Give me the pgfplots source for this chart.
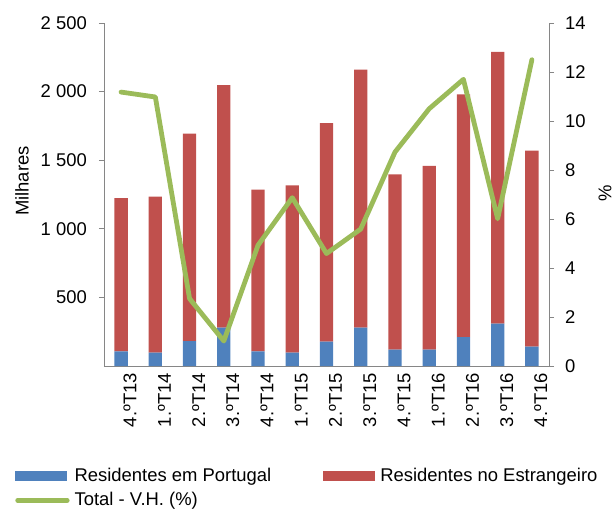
\documentclass[border=0pt]{standalone}
\usepackage{pgfplots}
\pgfplotsset{compat=1.18}
\usepackage{fontspec}
\setmainfont{Liberation Sans}
\definecolor{cblue}{HTML}{4F81BD}
\definecolor{cred}{HTML}{C0504D}
\definecolor{cgreen}{HTML}{9BBB59}
\definecolor{cgray}{HTML}{868686}
\begin{document}%
\fontsize{18.5}{21.5}\selectfont%
\begin{tikzpicture}
\begin{axis}[
  scale only axis, width=445bp, height=343bp,
  at={(0,0)}, anchor=south west,
  xmin=-0.5, xmax=12.5, ymin=0, ymax=2500,
  axis x line*=bottom, axis y line*=left,
  axis line style={cgray, line width=0.9bp, -},
  every tick/.style={cgray, line width=0.9bp},
  tick align=outside,
  major tick length=5bp, minor tick length=5bp,
  xtick={0,...,12},
  xticklabels={4.ºT13,1.ºT14,2.ºT14,3.ºT14,4.ºT14,1.ºT15,2.ºT15,3.ºT15,4.ºT15,1.ºT16,2.ºT16,3.ºT16,4.ºT16},
  x tick style={draw=none},
  minor xtick={-0.5,0.5,...,12.5},
  minor x tick style={cgray, line width=0.9bp},
  xticklabel style={rotate=90, anchor=east, inner sep=2bp, yshift=-9bp},
  ytick={500,1000,1500,2000,2500},
  yticklabels={500,1 000,1 500,2 000,2 500},
  yticklabel style={inner sep=3bp, xshift=-9bp},
  every axis y label/.style={at={(axis description cs:-0.184,0.539)}, rotate=90, anchor=center},
  ylabel={Milhares},
  ybar stacked, bar width=13.3bp,
  legend columns=2,
  legend cell align=left,
  legend style={at={(axis description cs:0,0)}, anchor=north west, xshift=-89bp, yshift=-100bp,
    draw=none, fill=none, inner sep=0pt, row sep=4bp,
    nodes={inner sep=2bp},
    /tikz/every odd column/.append style={column sep=3bp},
    /tikz/every even column/.append style={column sep=50bp}},
]
\addplot[fill=cblue, draw=none,
  legend image code/.code={\fill[cblue] (0bp,-5bp) rectangle (52bp,5bp);}]
  coordinates {(0,107) (1,97) (2,182) (3,279) (4,107) (5,97) (6,177) (7,279) (8,119) (9,119) (10,211) (11,309) (12,141)};
\addlegendentry{Residentes em Portugal}
\addplot[fill=cred, draw=none,
  legend image code/.code={\fill[cred] (0bp,-5bp) rectangle (52bp,5bp);}]
  coordinates {(0,1117) (1,1137) (2,1511) (3,1769) (4,1178) (5,1220) (6,1594) (7,1881) (8,1278) (9,1339) (10,1769) (11,1980) (12,1429)};
\addlegendentry{Residentes no Estrangeiro}
\addlegendimage{legend image code/.code={\draw[cgreen, line width=4.8bp, line cap=round] (2.5bp,0bp) -- (52bp,0bp);}}
\addlegendentry{Total - V.H. (\%)}
\end{axis}
\begin{axis}[
  scale only axis, width=445bp, height=343bp,
  at={(0,0)}, anchor=south west,
  xmin=-0.5, xmax=12.5, ymin=0, ymax=14,
  axis x line=none, axis y line*=right,
  axis line style={cgray, line width=0.9bp, -},
  every tick/.style={cgray, line width=0.9bp},
  tick align=outside, major tick length=5bp,
  ytick={0,2,...,14},
  /pgf/number format/assume math mode=true,
  yticklabel style={inner sep=3bp, xshift=8bp},
  every axis y label/.style={at={(axis description cs:1.126,0.504)}, rotate=90, anchor=center},
  ylabel={\%},
]
\addplot[cgreen, line width=4.8bp, line join=round, line cap=round]
  coordinates {(0,11.18) (1,10.98) (2,2.75) (3,1.02) (4,4.93) (5,6.87) (6,4.59) (7,5.59) (8,8.73) (9,10.5) (10,11.70) (11,6.01) (12,12.5)};
\end{axis}
\pgfresetboundingbox
\path[use as bounding box] (-104bp,-143bp) rectangle (510bp,366bp);
\end{tikzpicture}%
\end{document}
